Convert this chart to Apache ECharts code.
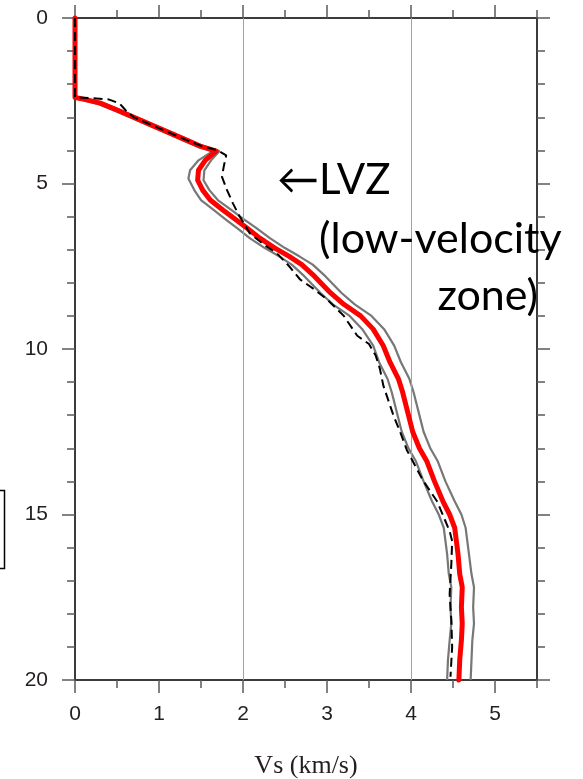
<!DOCTYPE html>
<html>
<head>
<meta charset="utf-8">
<script src="https://cdn.jsdelivr.net/npm/echarts@6/dist/echarts.min.js"></script>
<style>
  html, body { margin: 0; padding: 0; background: #ffffff; }
  #chart { width: 583px; height: 779px; }
</style>
</head>
<body>
<div id="chart"></div>
<script>
// Shear-wave velocity profiles: [Vs (km/s), depth]
const meanModel = [
  [0, 0], [0, 2.4], [0.1, 2.45], [0.3, 2.57], [0.5, 2.78], [0.7, 3.0], [0.9, 3.22],
  [1.1, 3.44], [1.3, 3.66], [1.5, 3.88], [1.68, 4.02], [1.55, 4.3], [1.47, 4.6],
  [1.46, 4.9], [1.52, 5.2], [1.61, 5.5], [1.76, 5.8], [1.92, 6.1], [2.05, 6.35],
  [2.2, 6.65], [2.38, 6.95], [2.55, 7.2], [2.7, 7.45], [2.85, 7.8], [3.04, 8.3],
  [3.2, 8.65], [3.4, 9.0], [3.55, 9.4], [3.67, 9.9], [3.75, 10.4], [3.85, 10.9],
  [3.9, 11.3], [3.96, 11.9], [4.02, 12.5], [4.1, 13.0], [4.19, 13.4], [4.28, 14.0],
  [4.38, 14.6], [4.46, 15.0], [4.52, 15.4], [4.56, 16.2], [4.58, 16.8], [4.61, 17.2],
  [4.6, 17.8], [4.61, 18.3], [4.6, 18.8], [4.58, 19.4], [4.57, 20]
];

const upperBound = [
  [0, 0], [0, 2.4], [0.12, 2.43], [0.32, 2.55], [0.52, 2.76], [0.72, 2.98], [0.92, 3.2],
  [1.12, 3.42], [1.32, 3.64], [1.52, 3.86], [1.72, 4.02], [1.62, 4.3], [1.54, 4.6],
  [1.53, 4.9], [1.6, 5.2], [1.7, 5.5], [1.86, 5.8], [2.02, 6.1], [2.16, 6.35],
  [2.32, 6.65], [2.5, 6.95], [2.67, 7.2], [2.83, 7.45], [2.98, 7.8], [3.17, 8.3],
  [3.33, 8.65], [3.53, 9.0], [3.68, 9.4], [3.8, 9.9], [3.88, 10.4], [3.98, 10.9],
  [4.03, 11.3], [4.09, 11.9], [4.15, 12.5], [4.23, 13.0], [4.32, 13.4], [4.41, 14.0],
  [4.52, 14.6], [4.6, 15.0], [4.65, 15.4], [4.69, 16.2], [4.72, 16.8], [4.75, 17.2],
  [4.74, 17.8], [4.75, 18.3], [4.73, 18.8], [4.72, 19.4], [4.71, 20]
];

const lowerBound = [
  [0, 0], [0, 2.4], [0.08, 2.47], [0.28, 2.6], [0.48, 2.81], [0.68, 3.03], [0.88, 3.25],
  [1.08, 3.47], [1.28, 3.69], [1.48, 3.91], [1.64, 4.02], [1.47, 4.3], [1.37, 4.6],
  [1.35, 4.85], [1.42, 5.2], [1.5, 5.5], [1.65, 5.8], [1.8, 6.1], [1.93, 6.35],
  [2.08, 6.65], [2.26, 6.95], [2.43, 7.2], [2.58, 7.45], [2.73, 7.8], [2.92, 8.3],
  [3.07, 8.65], [3.27, 9.0], [3.42, 9.4], [3.55, 9.9], [3.62, 10.4], [3.72, 10.9],
  [3.77, 11.3], [3.83, 11.9], [3.89, 12.5], [3.97, 13.0], [4.06, 13.4], [4.15, 14.0],
  [4.25, 14.6], [4.33, 15.0], [4.39, 15.4], [4.43, 16.2], [4.45, 16.8], [4.48, 17.2],
  [4.47, 17.8], [4.48, 18.3], [4.46, 18.8], [4.44, 19.4], [4.43, 20]
];

const trueModel = [
  [0, 0], [0, 2.4], [0.2, 2.42], [0.4, 2.46], [0.53, 2.58], [0.6, 2.78], [0.7, 3.0],
  [0.9, 3.22], [1.1, 3.44], [1.3, 3.66], [1.5, 3.86], [1.7, 4.0], [1.8, 4.15],
  [1.77, 4.5], [1.75, 4.8], [1.81, 5.2], [1.88, 5.6], [1.96, 6.0], [2.08, 6.5],
  [2.25, 6.85], [2.4, 7.1], [2.55, 7.5], [2.68, 7.9], [2.85, 8.2], [3.0, 8.5],
  [3.2, 9.0], [3.36, 9.6], [3.5, 9.85], [3.58, 10.2], [3.63, 10.6], [3.67, 11.1],
  [3.79, 12.0], [3.87, 12.5], [3.95, 13.05], [4.14, 13.96], [4.31, 14.6], [4.46, 15.5],
  [4.49, 15.8], [4.48, 16.5], [4.46, 17.4], [4.48, 18.2], [4.49, 19.0], [4.47, 19.9]
];

const vsMajorTicks = [0, 1, 2, 3, 4, 5];
const vsGridLines = [2, 4];
const depthLabels = [0, 5, 10, 15, 20];
const xTitle = 'Vs (km/s)';
const noteLines = ['\u2190LVZ', '(low-velocity', 'zone)'];

const AXIS_COLOR = '#3c3c3c';
const TICK_COLOR = '#5a5a5a';
const LABEL_FONT = { fontFamily: 'Liberation Sans', fontSize: 21, color: '#231f20' };

function xAxisPair(position, withLabels) {
  return [
    {
      type: 'value', position, min: 0, max: 5.5, interval: 0.5, z: 3,
      axisLine: { show: true, onZero: false, lineStyle: { color: AXIS_COLOR, width: 2 } },
      axisTick: { show: true, length: 8, lineStyle: { color: TICK_COLOR, width: 1.5 } },
      axisLabel: withLabels ? Object.assign({
        show: true, margin: 24,
        formatter: v => (vsMajorTicks.indexOf(v) >= 0 ? String(v) : '')
      }, LABEL_FONT) : { show: false },
      splitLine: { show: false },
      name: withLabels ? xTitle : '',
      nameLocation: 'middle', nameGap: 73,
      nameTextStyle: { fontFamily: 'Liberation Serif', fontSize: 26, color: '#231f20' }
    },
    {
      type: 'value', position, min: 0, max: 5.5, interval: 1, z: 3,
      axisLine: { show: false, onZero: false },
      axisTick: { show: true, length: 13, customValues: vsMajorTicks,
        lineStyle: { color: TICK_COLOR, width: 1.5 } },
      axisLabel: { show: false },
      splitLine: { show: false }
    }
  ];
}

function yAxisPair(position, withLabels) {
  return [
    {
      type: 'value', position, inverse: true, min: 0, max: 20, interval: 1, z: 3,
      axisLine: { show: true, onZero: false, lineStyle: { color: AXIS_COLOR, width: 2 } },
      axisTick: { show: true, length: 8, lineStyle: { color: TICK_COLOR, width: 1.5 } },
      axisLabel: withLabels ? Object.assign({
        show: true, margin: 27,
        formatter: v => (depthLabels.indexOf(v) >= 0 ? String(v) : '')
      }, LABEL_FONT) : { show: false },
      splitLine: { show: false }
    },
    {
      type: 'value', position, inverse: true, min: 0, max: 20, interval: 5, z: 3,
      axisLine: { show: false, onZero: false },
      axisTick: { show: true, length: 13, lineStyle: { color: TICK_COLOR, width: 1.5 } },
      axisLabel: { show: false },
      splitLine: { show: false }
    }
  ];
}

const chart = echarts.init(document.getElementById('chart'), null, { renderer: 'canvas' });

const boundStyle = { color: '#777777', width: 2.2 };

chart.setOption({
  animation: false,
  backgroundColor: '#ffffff',
  grid: { left: 75, right: 46, top: 18, bottom: 99, containLabel: false, outerBoundsMode: 'none' },
  xAxis: [].concat(xAxisPair('bottom', true), xAxisPair('top', false)),
  yAxis: [].concat(yAxisPair('left', true), yAxisPair('right', false)),
  series: [
    {
      type: 'line', name: 'grid', data: [], xAxisIndex: 0, yAxisIndex: 0, z: 1,
      markLine: {
        silent: true, symbol: 'none', label: { show: false }, animation: false,
        lineStyle: { color: '#a3a3a3', width: 1, type: 'solid' },
        data: vsGridLines.map(v => ({ xAxis: v }))
      }
    },
    { type: 'line', name: 'upper', data: upperBound, showSymbol: false, clip: false, z: 4,
      lineStyle: boundStyle },
    { type: 'line', name: 'lower', data: lowerBound, showSymbol: false, clip: false, z: 4,
      lineStyle: boundStyle },
    { type: 'line', name: 'mean', data: meanModel, showSymbol: false, clip: false, z: 5,
      lineStyle: { color: '#ff0000', width: 5, join: 'round', cap: 'round' } },
    { type: 'line', name: 'true', data: trueModel, showSymbol: false, clip: false, z: 6,
      lineStyle: { color: '#000000', width: 2, type: [9, 5] } }
  ],
  graphic: [
    { type: 'text', left: 277, top: 159, z: 10,
      style: { text: noteLines[0], font: '42px Lato, "DejaVu Sans"', fill: '#000' } },
    { type: 'text', left: 319, top: 218, z: 10,
      style: { text: noteLines[1], font: '43px Lato', fill: '#000' } },
    { type: 'text', right: 45, top: 275, z: 10,
      style: { text: noteLines[2], font: '43px Lato', fill: '#000' } },
    { type: 'rect', left: -10, top: 488, z: 10,
      shape: { width: 12, height: 78 },
      style: { fill: 'none', stroke: '#000', lineWidth: 1.5 } }
  ]
});
</script>
</body>
</html>
